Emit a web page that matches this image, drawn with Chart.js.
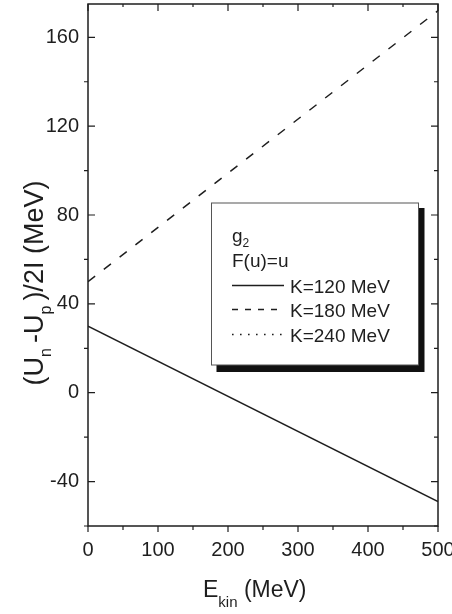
<!DOCTYPE html>
<html lang="en">
  <head>
    <meta charset="UTF-8" />
    <title>(Un-Up)/2I vs Ekin</title>
    <script src="https://cdn.jsdelivr.net/npm/chart.js"></script>
    <style>
      body {
        margin: 0;
        background: #fff;
      }
      #wrap {
        width: 452px;
        height: 614px;
      }
    </style>
  </head>
  <body>
    <div id="wrap"><canvas id="chart" width="452" height="614"></canvas></div>

    <script>
      // values
      var eKin = [0, 500];
      var k120 = [30, -49];
      var k180 = [50, 172];
      var k240 = []; // listed in the legend, no visible line

      var xTicks = [0, 100, 200, 300, 400, 500];
      var xMinor = [50, 150, 250, 350, 450];
      var yTicks = [-40, 0, 40, 80, 120, 160];
      var yMinor = [-60, -20, 20, 60, 100, 140];

      var FONT = '"Liberation Sans", Arial, sans-serif';
      var INK = "#1e1e1e";

      function pts(ys) {
        return ys.map(function (y, i) {
          return { x: eKin[i], y: y };
        });
      }

      // draws a run of [text, isSub] pieces starting at x, baseline y
      function drawPieces(ctx, pieces, x, y, size, subSize, subDrop, subGap) {
        pieces.forEach(function (p) {
          ctx.font = (p[1] ? subSize : size) + "px " + FONT;
          ctx.fillText(p[0], x, p[1] ? y + subDrop : y);
          x += ctx.measureText(p[0]).width + (p[1] ? subGap : 0);
        });
      }
      function piecesWidth(ctx, pieces, size, subSize, subGap) {
        var w = 0;
        pieces.forEach(function (p) {
          ctx.font = (p[1] ? subSize : size) + "px " + FONT;
          w += ctx.measureText(p[0]).width + (p[1] ? subGap : 0);
        });
        return w;
      }

      var framePlugin = {
        id: "frame",
        afterDatasetsDraw: function (chart) {
          var ctx = chart.ctx;
          var a = chart.chartArea;
          var xs = chart.scales.x;
          var ys = chart.scales.y;
          ctx.save();
          ctx.strokeStyle = INK;
          ctx.lineWidth = 1.5;
          ctx.setLineDash([]);
          ctx.strokeRect(a.left, a.top, a.right - a.left, a.bottom - a.top);

          ctx.lineWidth = 1.2;
          ctx.beginPath();
          xTicks.forEach(function (v) {
            var px = xs.getPixelForValue(v);
            ctx.moveTo(px, a.bottom);
            ctx.lineTo(px, a.bottom + 6);
            ctx.moveTo(px, a.top);
            ctx.lineTo(px, a.top + 7);
          });
          xMinor.forEach(function (v) {
            var px = xs.getPixelForValue(v);
            ctx.moveTo(px, a.bottom);
            ctx.lineTo(px, a.bottom + 4);
            ctx.moveTo(px, a.top);
            ctx.lineTo(px, a.top + 3);
          });
          yTicks.forEach(function (v) {
            var py = ys.getPixelForValue(v);
            ctx.moveTo(a.left, py);
            ctx.lineTo(a.left + 7, py);
            ctx.moveTo(a.right, py);
            ctx.lineTo(a.right - 7, py);
          });
          yMinor.forEach(function (v) {
            var py = ys.getPixelForValue(v);
            ctx.moveTo(a.left, py);
            ctx.lineTo(a.left - 4, py);
            ctx.moveTo(a.right, py);
            ctx.lineTo(a.right - 4, py);
          });
          ctx.stroke();

          // legend box with drop shadow
          var bx = 211.5, by = 203, bw = 207, bh = 162;
          ctx.fillStyle = "#111";
          ctx.fillRect(bx + 5, by + 5, bw + 1, bh + 2);
          ctx.fillStyle = "#fff";
          ctx.fillRect(bx, by, bw, bh);
          ctx.strokeStyle = "#555";
          ctx.lineWidth = 1;
          ctx.strokeRect(bx, by, bw, bh);

          ctx.fillStyle = INK;
          ctx.textBaseline = "alphabetic";
          drawPieces(ctx, [["g", false], ["2", true]], 232, 242, 19, 12, 5, 0);
          drawPieces(ctx, [["F(u)=u", false]], 232, 267, 19, 12, 5, 0);

          var rows = [
            { label: "K=120 MeV", dash: [], y: 293 },
            { label: "K=180 MeV", dash: [6, 7], y: 317 },
            { label: "K=240 MeV", dash: [1.6, 6.4], y: 342 },
          ];
          rows.forEach(function (r) {
            ctx.strokeStyle = INK;
            ctx.lineWidth = 1.5;
            ctx.setLineDash(r.dash);
            ctx.beginPath();
            ctx.moveTo(232, r.y - 7.5);
            ctx.lineTo(284, r.y - 7.5);
            ctx.stroke();
            ctx.setLineDash([]);
            ctx.font = "19px " + FONT;
            ctx.fillText(r.label, 290, r.y);
          });

          // x title
          drawPieces(ctx, [["E", false], ["kin", true], [" (MeV)", false]], 203, 597, 23, 15, 10, 0);

          // y title, rotated
          var yt = [["(U", false], ["n", true], ["-U", false], ["p", true], [")/2I (MeV)", false]];
          var w = piecesWidth(ctx, yt, 27, 16, 5);
          ctx.translate(43, 283);
          ctx.rotate(-Math.PI / 2);
          drawPieces(ctx, yt, -w / 2, 0, 27, 16, 8, 5);
          ctx.restore();
        },
      };

      var ctx = document.getElementById("chart").getContext("2d");
      var chart = new Chart(ctx, {
        type: "line",
        data: {
          datasets: [
            {
              label: "K=120 MeV",
              data: pts(k120),
              borderColor: INK,
              borderWidth: 1.5,
              pointRadius: 0,
              fill: false,
            },
            {
              label: "K=180 MeV",
              data: pts(k180),
              borderColor: INK,
              borderWidth: 1.5,
              borderDash: [9, 11],
              pointRadius: 0,
              fill: false,
            },
            {
              label: "K=240 MeV",
              data: pts(k240),
              borderColor: INK,
              borderWidth: 1.5,
              borderDash: [1.6, 6.4],
              pointRadius: 0,
              fill: false,
            },
          ],
        },
        options: {
          responsive: false,
          animation: false,
          layout: {
            autoPadding: false,
            padding: { left: 0, top: 4, right: 14, bottom: 0 },
          },
          plugins: {
            legend: { display: false },
            tooltip: { enabled: false },
          },
          scales: {
            x: {
              type: "linear",
              min: 0,
              max: 500,
              grid: { display: false, drawTicks: false },
              border: { display: false },
              afterBuildTicks: function (s) {
                s.ticks = xTicks.map(function (v) {
                  return { value: v };
                });
              },
              afterFit: function (s) {
                s.height = 88;
                s.paddingLeft = 0;
                s.paddingRight = 0;
              },
              ticks: {
                padding: 12,
                maxRotation: 0,
                color: INK,
                font: { family: FONT, size: 20 },
              },
            },
            y: {
              type: "linear",
              min: -60,
              max: 175,
              grid: { display: false, drawTicks: false },
              border: { display: false },
              afterBuildTicks: function (s) {
                s.ticks = yTicks.map(function (v) {
                  return { value: v };
                });
              },
              afterFit: function (s) {
                s.width = 88;
                s.paddingTop = 0;
                s.paddingBottom = 0;
              },
              ticks: {
                padding: 9,
                color: INK,
                font: { family: FONT, size: 20 },
              },
            },
          },
        },
        plugins: [framePlugin],
      });
    </script>
  </body>
</html>
